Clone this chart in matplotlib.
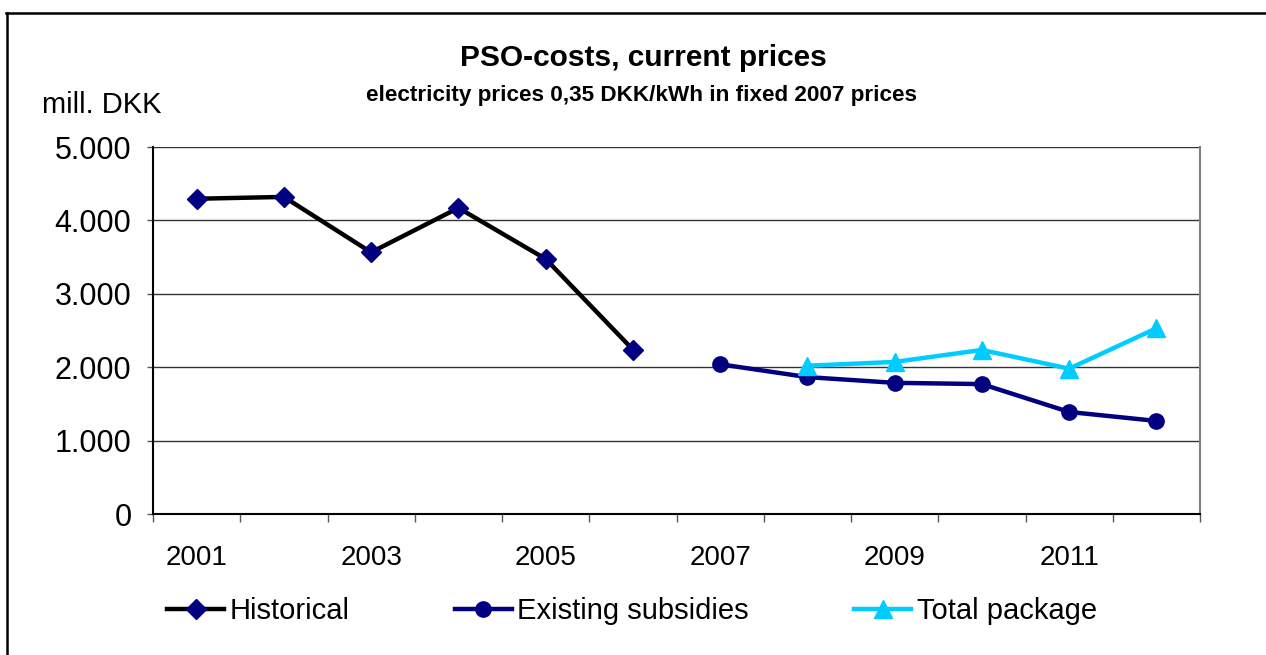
import matplotlib
matplotlib.use("Agg")
import matplotlib.pyplot as plt
from matplotlib.lines import Line2D
import numpy as np

plt.rcParams['font.family'] = ['Liberation Sans', 'DejaVu Sans']

years = [2001, 2002, 2003, 2004, 2005, 2006, 2007, 2008, 2009, 2010, 2011, 2012]
historical = [4295, 4320, 3565, 4170, 3475, 2240, None, None, None, None, None, None]
existing = [None, None, None, None, None, None, 2040, 1865, 1787, 1770, 1390, 1268]
total = [None, None, None, None, None, None, None, 2020, 2072, 2235, 1980, 2530]
yticks = [0, 1000, 2000, 3000, 4000, 5000]
ytick_labels = ["0", "1.000", "2.000", "3.000", "4.000", "5.000"]

def arr(v):
    return np.array([np.nan if x is None else x for x in v], dtype=float)

W, H = 1266, 655
fig = plt.figure(figsize=(W / 100, H / 100), dpi=100)
ax = fig.add_axes([153 / W, 1 - 514 / H, (1200 - 153) / W, (514 - 147) / H])

x = np.arange(len(years))
navy = '#000080'
cyan = '#00CCFF'

l1, = ax.plot(x, arr(historical), color='black', lw=3.2, marker='D', ms=10,
              mfc=navy, mec=navy, zorder=3, label='Historical')
l2, = ax.plot(x, arr(existing), color=navy, lw=3.2, marker='o', ms=11,
              mfc=navy, mec=navy, zorder=3, label='Existing subsidies')
l3, = ax.plot(x, arr(total), color=cyan, lw=3.2, marker='^', ms=13.5,
              mfc=cyan, mec=cyan, zorder=3, label='Total package')

ax.set_xlim(-0.5, len(years) - 0.5)
ax.set_ylim(0, 5000)
ax.set_yticks(yticks)
ax.set_yticklabels(ytick_labels)
ax.yaxis.grid(True, color='#333333', lw=1)
ax.set_axisbelow(True)

ax.set_xticks(np.arange(len(years) + 1) - 0.5)
ax.set_xticklabels([])
ax.set_xticks(x[::2], minor=True)
ax.set_xticklabels([str(y) for y in years[::2]], minor=True)
ax.tick_params(axis='x', which='major', direction='out', length=6, width=1, color='#555555')
ax.tick_params(axis='x', which='minor', length=0, pad=22, labelsize=20)
ax.tick_params(axis='y', direction='out', length=4.5, width=1, color='#555555', pad=11, labelsize=22)

for s in ['left', 'bottom']:
    ax.spines[s].set_color('black')
    ax.spines[s].set_linewidth(1.5)
ax.spines['top'].set_visible(False)
ax.spines['right'].set_color('#808080')
ax.spines['right'].set_linewidth(1.5)

fig.text(643 / W, 1 - 58 / H, 'PSO-costs, current prices', ha='center', va='center',
         fontsize=21.5, fontweight='bold')
fig.text(642 / W, 1 - 96 / H, 'electricity prices 0,35 DKK/kWh in fixed 2007 prices',
         ha='center', va='center', fontsize=16.2, fontweight='bold')
fig.text(42 / W, 1 - 105 / H, 'mill. DKK', ha='left', va='center', fontsize=21)

leg = fig.legend(handles=[l1, l2, l3], loc='center', bbox_to_anchor=(632 / W, 1 - 611 / H),
                 ncol=3, frameon=False, fontsize=21, handlelength=1.95, handletextpad=0.2,
                 columnspacing=3.6, borderaxespad=0)

# outer chart border (top and left)
fig.add_artist(Line2D([6 / W, 1.0], [1 - 12.5 / H, 1 - 12.5 / H], transform=fig.transFigure,
                      color='black', lw=1.8))
fig.add_artist(Line2D([7 / W, 7 / W], [0, 1 - 12.5 / H], transform=fig.transFigure,
                      color='black', lw=1.8))

fig.savefig('out.png', dpi=100)
